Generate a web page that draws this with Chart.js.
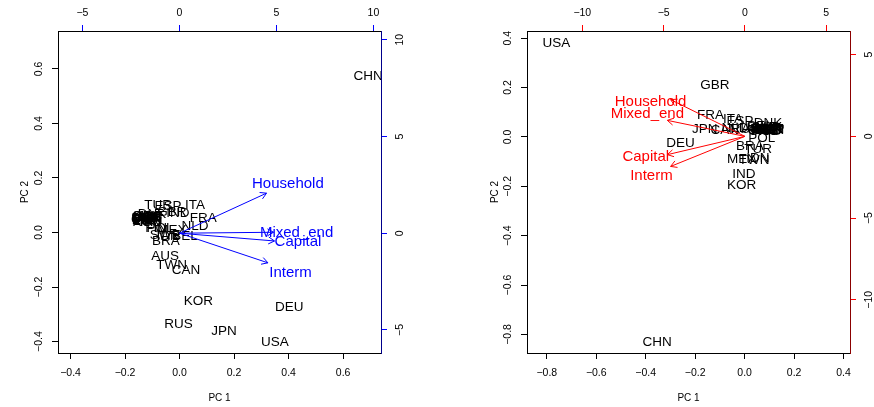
<!DOCTYPE html>
<html>
<head>
<meta charset="utf-8">
<script src="https://cdn.jsdelivr.net/npm/chart.js@4.4.0/dist/chart.umd.min.js"></script>
<style>
  body { margin: 0; background: #fff; }
  #wrap { position: relative; width: 874px; height: 407px; }
  canvas { position: absolute; top: 0; }
</style>
</head>
<body>
<div id="wrap">
  <canvas id="leftPanel" width="437" height="407" style="left:0"></canvas>
  <canvas id="rightPanel" width="437" height="407" style="left:437px"></canvas>
</div>
<script>
// countries shown in both biplots
const countries = ["AUS","AUT","BEL","BGR","BRA","CAN","CHN","CYP","CZE","DEU",
  "DNK","ESP","EST","FIN","FRA","GBR","GRC","HUN","IDN","IND",
  "IRL","ITA","JPN","KOR","LTU","LUX","LVA","MEX","MLT","NLD",
  "POL","PRT","ROU","RUS","SVK","SVN","SWE","TUR","TWN","USA"];

// left biplot scores
const pc1Left = [-0.053,-0.108,0.020,-0.123,-0.050,0.024,0.692,-0.127,-0.116,0.402,
  -0.101,-0.042,-0.127,-0.086,0.087,-0.028,-0.119,-0.116,-0.042,-0.006,
  -0.108,0.057,0.163,0.069,-0.127,-0.123,-0.127,-0.028,-0.125,0.057,
  -0.072,-0.108,-0.119,-0.004,-0.123,-0.127,-0.053,-0.079,-0.029,0.350];
const pc2Left = [-0.086,0.061,-0.015,0.053,-0.034,-0.140,0.574,0.050,0.057,-0.274,
  0.068,0.097,0.046,0.017,0.052,0.075,0.061,0.046,-0.013,0.072,
  0.039,0.101,-0.363,-0.251,0.053,0.042,0.057,0.009,0.049,0.021,
  0.017,0.050,0.039,-0.336,0.061,0.053,-0.009,0.101,-0.119,-0.403];

// right biplot scores
const pc1Right = [0.042,0.090,0.062,0.100,0.021,-0.080,-0.354,0.105,0.085,-0.259,
  0.094,-0.019,0.103,0.080,-0.138,-0.120,0.075,0.095,0.054,-0.003,
  0.070,-0.047,-0.161,-0.012,0.102,0.098,0.105,-0.012,0.106,-0.039,
  0.069,0.078,0.088,0.001,0.096,0.104,0.070,0.055,0.038,-0.761];
const pc2Right = [0.033,0.037,0.045,0.025,-0.038,0.025,-0.830,0.029,0.025,-0.025,
  0.057,0.062,0.033,0.029,0.086,0.211,0.021,0.033,-0.088,-0.153,
  0.029,0.073,0.029,-0.194,0.025,0.040,0.033,-0.089,0.025,0.037,
  -0.004,0.033,0.021,0.029,0.029,0.029,0.040,-0.052,-0.096,0.380];

// loadings (arrows) and where their names sit
const variables = ["Household","Mixed_end","Capital","Interm"];
const loadXLeft = [4.49, 4.85, 4.90, 4.56];
const loadYLeft = [2.07, 0.05, -0.40, -1.53];
const labXLeft = [5.59, 6.04, 6.11, 5.73];
const labYLeft = [2.55, 0.00, -0.47, -2.04];
const loadXRight = [-4.57, -4.77, -4.77, -4.57];
const loadYRight = [2.25, 0.98, -1.12, -1.84];
const labXRight = [-5.80, -6.00, -6.10, -5.75];
const labYRight = [2.11, 1.37, -1.26, -2.41];

// tick values
const scoreTicksLeft = [-0.4, -0.2, 0, 0.2, 0.4, 0.6];
const loadTicksLeft = [-5, 0, 5, 10];
const scoreTicksRight = [-0.8, -0.6, -0.4, -0.2, 0, 0.2, 0.4];
const loadTicksRight = [-10, -5, 0, 5];

const FONT = '"Liberation Sans", Arial, Helvetica, sans-serif';
const minus = (s) => s.replace("-", "\u2212");
const fmt1 = (v) => minus(Number(v).toFixed(1));
const fmt0 = (v) => minus(String(Math.round(v)));

// draws rotated y tick labels, country names, arrows and arrow names
const biplot = {
  id: "biplot",
  afterDraw(chart, args, opts) {
    const ctx = chart.ctx;
    const a = chart.chartArea;
    const { x, y, x2, y2 } = chart.scales;

    ctx.save();
    ctx.fillStyle = "#000";
    ctx.font = "10.5px " + FONT;
    ctx.textAlign = "center";
    ctx.textBaseline = "middle";
    [[y, a.left - 19], [y2, a.right + 19]].forEach(([s, px]) => {
      s.ticks.forEach((t) => {
        ctx.save();
        ctx.translate(px, s.getPixelForValue(t.value));
        ctx.rotate(-Math.PI / 2);
        ctx.fillText(t.label, 0, 0);
        ctx.restore();
      });
    });
    ctx.restore();

    ctx.save();
    ctx.beginPath();
    ctx.rect(a.left, a.top, a.right - a.left, a.bottom - a.top);
    ctx.clip();
    ctx.textAlign = "center";
    ctx.textBaseline = "middle";
    ctx.fillStyle = "#000";
    ctx.font = "13.5px " + FONT;
    chart.data.datasets[0].data.forEach((p, i) => {
      ctx.fillText(countries[i], x.getPixelForValue(p.x), y.getPixelForValue(p.y));
    });

    const ox = x2.getPixelForValue(0);
    const oy = y2.getPixelForValue(0);
    ctx.strokeStyle = opts.color;
    ctx.lineWidth = 1;
    chart.data.datasets[1].data.forEach((p) => {
      const ex = x2.getPixelForValue(p.x);
      const ey = y2.getPixelForValue(p.y);
      const ang = Math.atan2(ey - oy, ex - ox);
      ctx.beginPath();
      ctx.moveTo(ox, oy);
      ctx.lineTo(ex, ey);
      [ang + Math.PI - Math.PI / 6, ang + Math.PI + Math.PI / 6].forEach((h) => {
        ctx.moveTo(ex, ey);
        ctx.lineTo(ex + 7 * Math.cos(h), ey + 7 * Math.sin(h));
      });
      ctx.stroke();
    });

    ctx.fillStyle = opts.color;
    ctx.font = "15px " + FONT;
    opts.labX.forEach((lx, i) => {
      ctx.fillText(variables[i], x2.getPixelForValue(lx), y2.getPixelForValue(opts.labY[i]));
    });
    ctx.restore();
  },
};

function axis(pos, range, ticks, fmt, size, tickCol, borderCol, pad, title) {
  const horiz = pos === "top" || pos === "bottom";
  const opt = {
    type: "linear",
    position: pos,
    min: range[0],
    max: range[1],
    afterBuildTicks: (s) => { s.ticks = ticks.map((v) => ({ value: v })); },
    afterFit: (s) => { if (horiz) s.height = size; else s.width = size; },
    grid: { drawOnChartArea: false, drawTicks: true, tickLength: 6, tickColor: tickCol, tickWidth: 1 },
    border: { display: true, color: borderCol, width: 1 },
    ticks: {
      display: horiz,
      callback: fmt,
      color: "#000",
      font: { family: FONT, size: 10.5 },
      padding: pad,
      autoSkip: false,
      maxRotation: 0,
    },
  };
  if (title) {
    opt.title = {
      display: true,
      text: title.text,
      color: "#000",
      font: { family: FONT, size: 10 },
      padding: title.padding,
    };
  }
  return opt;
}

function makePanel(id, o) {
  const scores = o.pc1.map((v, i) => ({ x: v, y: o.pc2[i] }));
  const loads = o.lx.map((v, i) => ({ x: v, y: o.ly[i] }));
  return new Chart(document.getElementById(id), {
    type: "scatter",
    data: {
      datasets: [
        { data: scores, pointRadius: 0, xAxisID: "x", yAxisID: "y" },
        { data: loads, pointRadius: 0, xAxisID: "x2", yAxisID: "y2" },
      ],
    },
    options: {
      responsive: false,
      animation: false,
      events: [],
      layout: { padding: 0 },
      plugins: {
        legend: { display: false },
        tooltip: { enabled: false },
        biplot: { color: o.color, labX: o.labX, labY: o.labY },
      },
      scales: {
        x: axis("bottom", o.xr, o.scoreTicks, fmt1, 54, "#000", "#000", 8,
          { text: "PC 1", padding: { top: 0, bottom: 3 } }),
        y: axis("left", o.yr, o.scoreTicks, fmt1, o.leftW, "#000", "#000", 0,
          { text: "PC 2", padding: { top: o.titlePad, bottom: 0 } }),
        x2: axis("top", o.x2r, o.loadTicks, fmt0, 31, o.color, "#000", 6),
        y2: axis("right", o.y2r, o.loadTicks, fmt0, o.rightW, o.color, o.edge, 0),
      },
    },
    plugins: [biplot],
  });
}

makePanel("leftPanel", {
  pc1: pc1Left, pc2: pc2Left, lx: loadXLeft, ly: loadYLeft,
  labX: labXLeft, labY: labYLeft,
  scoreTicks: scoreTicksLeft, loadTicks: loadTicksLeft,
  xr: [-0.446, 0.739], yr: [-0.442, 0.739],
  x2r: [-6.26, 10.39], y2r: [-6.19, 10.45],
  leftW: 58, rightW: 56, titlePad: 19,
  color: "#0000ff", edge: "#00008b",
});

makePanel("rightPanel", {
  pc1: pc1Right, pc2: pc2Right, lx: loadXRight, ly: loadYRight,
  labX: labXRight, labY: labYRight,
  scoreTicks: scoreTicksRight, loadTicks: loadTicksRight,
  xr: [-0.880, 0.426], yr: [-0.875, 0.429],
  x2r: [-13.4, 6.46], y2r: [-13.26, 6.45],
  leftW: 90, rightW: 24, titlePad: 52,
  color: "#ff0000", edge: "#8b0000",
});
</script>
</body>
</html>
